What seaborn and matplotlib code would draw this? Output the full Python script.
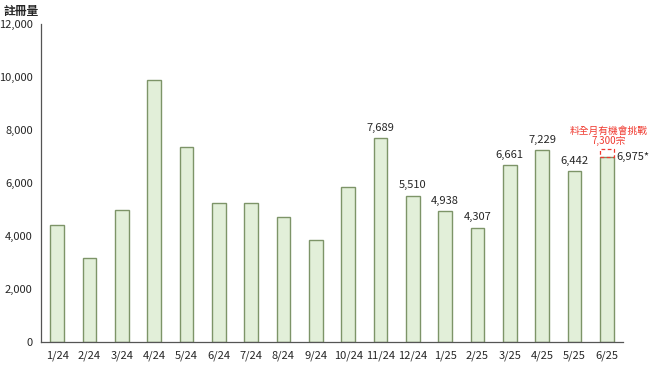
import matplotlib
matplotlib.use("Agg")
import matplotlib.pyplot as plt
import matplotlib.patches as mpatches
import numpy as np
import pandas as pd
import seaborn as sns

months = ["1/24", "2/24", "3/24", "4/24", "5/24", "6/24", "7/24", "8/24", "9/24",
          "10/24", "11/24", "12/24", "1/25", "2/25", "3/25", "4/25", "5/25", "6/25"]
registrations = [4400, 3180, 5000, 9880, 7350, 5240, 5260, 4720, 3840,
                 5850, 7689, 5510, 4938, 4307, 6661, 7229, 6442, 6975]
bar_labels = [None] * 10 + ["7,689", "5,510", "4,938", "4,307", "6,661",
                            "7,229", "6,442", "6,975*"]
target_value = 7300
target_text = "料全月有機會挑戰\n7,300宗"
y_ticks = [0, 2000, 4000, 6000, 8000, 10000, 12000]


def main():
    sns.set_style("white")
    plt.rcParams["font.family"] = ["Noto Sans CJK TC", "DejaVu Sans"]

    df = pd.DataFrame({"month": months, "count": registrations})

    fig = plt.figure(figsize=(6.49, 3.66), dpi=100)
    ax = fig.add_axes([41 / 649, 24 / 366, 582 / 649, 318 / 366])

    sns.barplot(data=df, x="month", y="count", ax=ax, width=0.43,
                color="#e2efd9", edgecolor="#7d9468", linewidth=1.0,
                saturation=1)

    ax.set_xlim(-0.5, len(months) - 0.5)
    ax.set_ylim(0, 12000)
    ax.set_yticks(y_ticks)
    ax.set_yticklabels([f"{v:,}" for v in y_ticks], fontsize=8)
    ax.set_xticks(range(len(months)))
    ax.set_xticklabels(months, fontsize=8)
    ax.set_xticks(np.arange(-0.5, len(months)), minor=True)
    ax.tick_params(axis="x", which="major", length=0, pad=6)
    ax.tick_params(axis="x", which="minor", direction="inout", length=6,
                   width=0.8, color="#444444")
    ax.tick_params(axis="y", direction="inout", length=6, width=0.8,
                   color="#444444", pad=3)
    ax.set_xlabel("")
    ax.set_ylabel("")
    for side in ["top", "right"]:
        ax.spines[side].set_visible(False)
    for side in ["left", "bottom"]:
        ax.spines[side].set_color("#555555")
        ax.spines[side].set_linewidth(0.9)

    fig.text(4 / 649, 1 - 11 / 366, "註冊量", fontsize=8.5, fontweight="bold",
             va="center")

    last = len(months) - 1
    for i, lab in enumerate(bar_labels):
        if lab is None:
            continue
        if i == last:
            ax.annotate(lab, (i + 0.22, registrations[i]), xytext=(2, 0),
                        textcoords="offset points", ha="left", va="center",
                        fontsize=8)
        else:
            ax.annotate(lab, (i, registrations[i]), xytext=(0, 4),
                        textcoords="offset points", ha="center",
                        va="bottom", fontsize=8)

    box = mpatches.Rectangle((last - 0.215, registrations[last]), 0.43,
                             target_value - registrations[last], fill=False,
                             edgecolor="#f03a30", linestyle=(0, (3, 2)),
                             linewidth=0.9, zorder=3)
    ax.add_patch(box)
    ax.annotate(target_text, (last, target_value), xytext=(1, 2),
                textcoords="offset points", ha="center", va="bottom",
                fontsize=7, color="#f03a30", linespacing=1.0,
                annotation_clip=False)

    fig.savefig("out.png", dpi=100)


if __name__ == "__main__":
    main()
